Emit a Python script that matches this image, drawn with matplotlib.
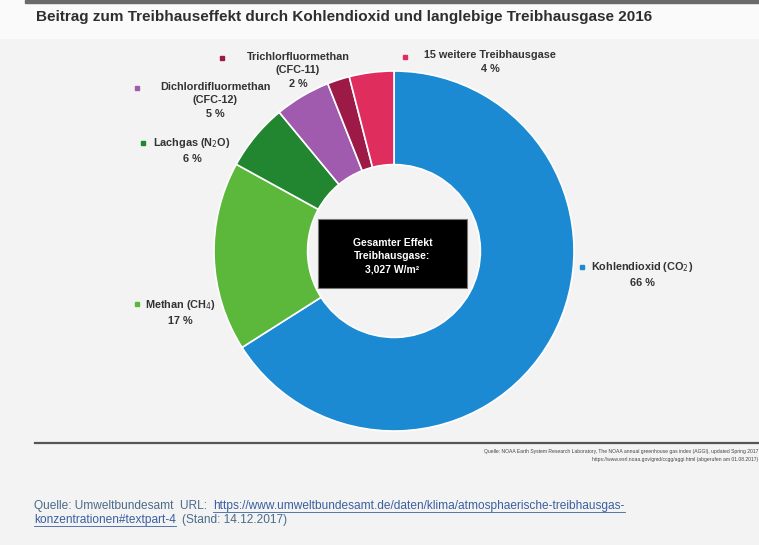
import matplotlib
matplotlib.use("Agg")
import matplotlib.pyplot as plt
from matplotlib.patches import Rectangle

# Contribution to radiative forcing, 2016
gases = ["Kohlendioxid (CO$_2$)", "Methan (CH$_4$)", "Lachgas (N$_2$O)",
         "Dichlordifluormethan\n(CFC-12)", "Trichlorfluormethan\n(CFC-11)",
         "15 weitere Treibhausgase"]
shares = [66, 17, 6, 5, 2, 4]
colors = ["#1b8ad3", "#5cb83a", "#21862f", "#a05aae", "#9c1a45", "#df2e5e"]
total_label = "Gesamter Effekt\nTreibhausgase:\n3,027 W/m²"

W, H = 759, 545
fig = plt.figure(figsize=(W / 100, H / 100), dpi=100)
fig.patch.set_facecolor("#f3f3f3")
ax = fig.add_axes([0, 0, 1, 1])

FONT = ["Liberation Sans", "DejaVu Sans"]


def py(y):
    return H - y


# donut
wedges, _ = ax.pie(shares, colors=colors, center=(394, py(251)), radius=180,
                   startangle=90, counterclock=False,
                   wedgeprops=dict(width=180 * 0.52, edgecolor="white", linewidth=1.2))
for w in wedges:
    w.set_zorder(2)

ax.set_xlim(0, W)
ax.set_ylim(0, H)
ax.set_aspect("equal")
ax.axis("off")

# header strip
ax.add_patch(Rectangle((0, py(38)), W, 38, color="#fafafa", zorder=0))
ax.add_patch(Rectangle((25, py(3)), W - 25, 3, color="#6a6a6a", zorder=1))
ax.text(36, py(17), "Beitrag zum Treibhauseffekt durch Kohlendioxid und langlebige Treibhausgase 2016",
        family=FONT, fontsize=11.0, fontweight="bold", color="#2e2e2e", va="center", ha="left")

# center box
ax.add_patch(Rectangle((318, py(288)), 149, 69, facecolor="black", edgecolor="#777777",
                       linewidth=0.8, zorder=3))
ax.text(392.5, py(256), total_label, family=FONT, fontsize=7.5, fontweight="bold",
        color="white", ha="center", va="center", linespacing=1.4, zorder=4)

# labels: marker position, text centre
label_pos = [
    ((582, 267), (642, 267)),
    ((137, 304), (180, 305)),
    ((143, 143), (192, 143)),
    ((137, 88), (215, 88)),
    ((222, 58), (298, 58)),
    ((405, 57), (490, 57)),
]
for name, share, col, ((mx, my), (tx, ty)) in zip(gases, shares, colors, label_pos):
    ax.plot(mx, py(my), "s", color=col, markersize=3.2, zorder=5)
    txt = name + "\n" + f"{share} %"
    ax.text(tx, py(ty) + 6.5, txt, family=FONT, fontsize=7.8, fontweight="bold",
            color="#333333", ha="center", va="top", linespacing=1.45, zorder=5)

# data source rule and note
ax.plot([35, W], [py(443), py(443)], color="#555555", linewidth=1.6)
ax.text(W - 1, py(451), "Quelle: NOAA Earth System Research Laboratory, The NOAA annual greenhouse gas index (AGGI), updated Spring 2017",
        family=FONT, fontsize=3.6, color="#444444", ha="right", va="center")
ax.text(W - 1, py(460), "https://www.esrl.noaa.gov/gmd/ccgg/aggi.html (abgerufen am 01.08.2017)",
        family=FONT, fontsize=3.6, color="#444444", ha="right", va="center")

# citation with underlined link, laid out from measured text extents
CFS = 8.6
renderer = fig.canvas.get_renderer()


def put(x, y, s, color, underline=False):
    t = ax.text(x, py(y), s, family=FONT, fontsize=CFS, color=color,
                ha="left", va="center")
    bb = t.get_window_extent(renderer)
    if underline:
        ax.plot([bb.x0, bb.x1], [bb.y0, bb.y0], color=color, linewidth=0.6)
    return bb.x1


x = put(34, 506, "Quelle: Umweltbundesamt  URL: ", "#4a6b8a")
put(x + 3, 506, "https://www.umweltbundesamt.de/daten/klima/atmosphaerische-treibhausgas-",
    "#3a5fa0", underline=True)
x = put(34, 520, "konzentrationen#textpart-4", "#3a5fa0", underline=True)
put(x + 6, 520, "(Stand: 14.12.2017)", "#4a6b8a")

fig.savefig("out.png", dpi=100, facecolor=fig.get_facecolor())
